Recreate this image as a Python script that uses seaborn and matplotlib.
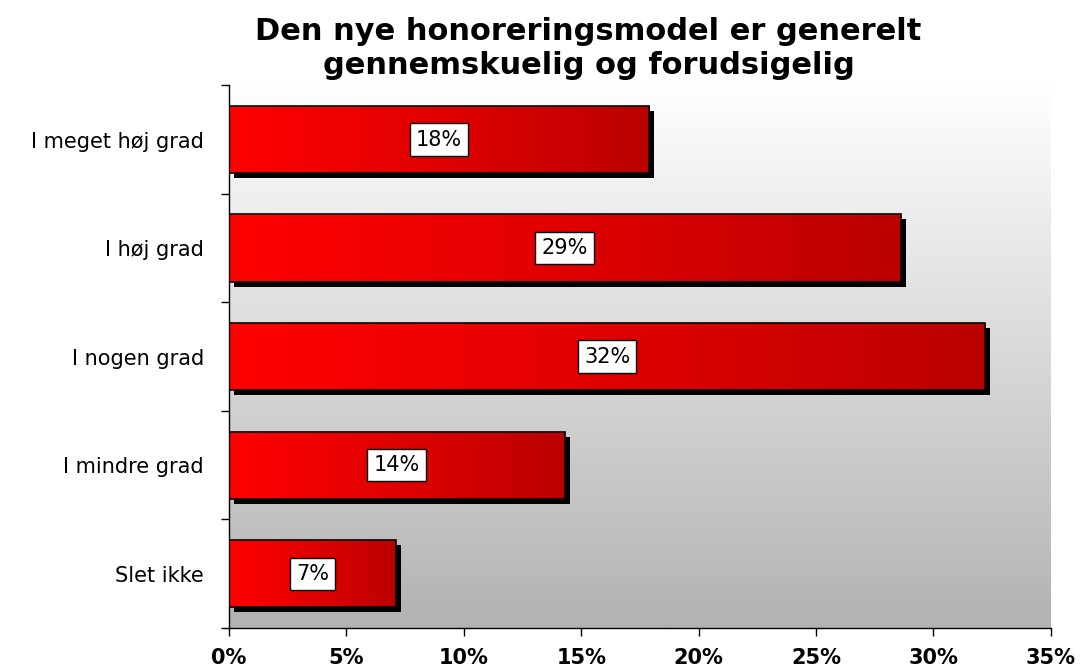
import numpy as np
import pandas as pd
import matplotlib
matplotlib.use("Agg")
import matplotlib.pyplot as plt
import matplotlib.transforms as mtransforms
from matplotlib.colors import LinearSegmentedColormap
from matplotlib.patches import Rectangle
import seaborn as sns

# Data
categories = ["I meget høj grad", "I høj grad", "I nogen grad", "I mindre grad", "Slet ikke"]
values = [17.9, 28.6, 32.2, 14.3, 7.1]
bar_labels = ["18%", "29%", "32%", "14%", "7%"]
x_ticks = [0, 5, 10, 15, 20, 25, 30, 35]
x_ticklabels = ["0%", "5%", "10%", "15%", "20%", "25%", "30%", "35%"]
title = "Den nye honoreringsmodel er generelt\ngennemskuelig og forudsigelig"


def main():
    sns.set_style("white")
    plt.rcParams['font.family'] = ['DejaVu Sans']
    plt.rcParams['text.color'] = 'black'
    plt.rcParams['xtick.color'] = 'black'
    plt.rcParams['ytick.color'] = 'black'

    df = pd.DataFrame({'kategori': categories, 'andel': values})

    fig = plt.figure(figsize=(10.8, 6.71), dpi=100)
    ax = fig.add_axes([0.212, 0.064, 0.761, 0.809])

    sns.barplot(data=df, x='andel', y='kategori', orient='h', width=0.62,
                facecolor='none', edgecolor='black', linewidth=1.2, ax=ax, zorder=3)

    # Grey background gradient (white at top, grey at bottom)
    bg = np.linspace(0, 1, 256).reshape(-1, 1)
    bg_cmap = LinearSegmentedColormap.from_list('bg', ['#ffffff', '#b2b2b2'])
    ax.imshow(bg, cmap=bg_cmap, aspect='auto', origin='upper',
              extent=(0, 35, 4.5, -0.5), zorder=0)

    # Red gradient fill and black shadow for every bar
    red_cmap = LinearSegmentedColormap.from_list('red', ['#ff0000', '#e00000', '#bb0000'])
    grad = np.linspace(0, 1, 256).reshape(1, -1)
    shadow_tr = mtransforms.offset_copy(ax.transData, fig=fig, x=5, y=-5, units='dots')
    for patch in ax.patches[:len(values)]:
        x0, y0 = patch.get_x(), patch.get_y()
        w, h = patch.get_width(), patch.get_height()
        ax.add_patch(Rectangle((x0, y0), w, h, facecolor='black', edgecolor='none',
                               transform=shadow_tr, zorder=1.5))
        im = ax.imshow(grad, cmap=red_cmap, aspect='auto',
                       extent=(x0, x0 + w, y0 + h, y0), zorder=2)
        im.set_clip_path(patch)

    ax.bar_label(ax.containers[0], labels=bar_labels, label_type='center',
                 fontsize=15, color='black', zorder=5,
                 bbox=dict(boxstyle='square,pad=0.3', facecolor='white',
                           edgecolor='black', linewidth=1))

    ax.set_xlim(0, 35)
    ax.set_ylim(4.5, -0.5)
    ax.set_xticks(x_ticks)
    ax.set_xticklabels(x_ticklabels, fontsize=15, fontweight='bold')
    ax.set_yticks(range(len(categories)))
    ax.set_yticklabels(categories, fontsize=15)
    ax.set_yticks(np.arange(-0.5, len(categories), 1.0), minor=True)
    ax.tick_params(axis='y', which='major', left=False, length=0, pad=18)
    ax.tick_params(axis='y', which='minor', left=True, length=6, width=1,
                   direction='out', color='black')
    ax.tick_params(axis='x', bottom=True, length=6, width=1, direction='out',
                   color='black', pad=8)
    ax.set_xlabel('')
    ax.set_ylabel('')

    for side in ['top', 'right']:
        ax.spines[side].set_visible(False)
    for side in ['left', 'bottom']:
        ax.spines[side].set_color('black')
        ax.spines[side].set_linewidth(1)
    ax.set_facecolor('none')

    fig.text(0.545, 0.975, title, ha='center', va='top', fontsize=22,
             fontweight='bold', color='black', linespacing=1.22)

    fig.savefig("out.png", dpi=100)


if __name__ == "__main__":
    main()
